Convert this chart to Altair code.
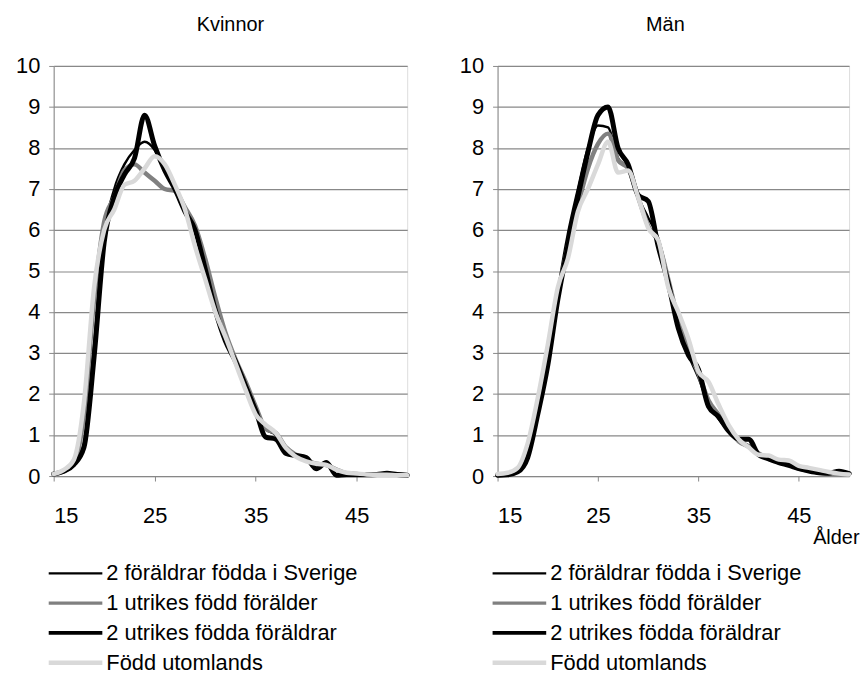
import altair as alt
import pandas as pd

FONT = "Liberation Sans"

AGES = list(range(15, 51))
SERIES = ["2 föräldrar födda i Sverige", "1 utrikes född förälder",
          "2 utrikes födda föräldrar", "Född utomlands"]
COLORS = ["#000000", "#808080", "#000000", "#d9d9d9"]
WIDTHS = [2.5, 4.5, 5.0, 4.5]
X_TICKS = [15, 25, 35, 45]
Y_TICKS = list(range(0, 11))

# Kvinnor
K_S1 = [0.05, 0.12, 0.3, 0.8, 3.2, 5.9, 7.0, 7.6, 7.95, 8.15, 7.95, 7.45, 7.0, 6.5, 6.0, 5.1, 4.1, 3.35,
        2.8, 2.25, 1.65, 1.15, 1.0, 0.65, 0.5, 0.4, 0.3, 0.27, 0.15, 0.06, 0.04, 0.03, 0.03, 0.04, 0.03, 0.02]
K_S2 = [0.05, 0.12, 0.3, 1.5, 4.3, 6.2, 6.8, 7.45, 7.6, 7.4, 7.2, 7.0, 6.95, 6.55, 6.1, 5.3, 4.35, 3.5,
        2.85, 2.3, 1.7, 1.15, 1.05, 0.7, 0.52, 0.4, 0.3, 0.27, 0.16, 0.07, 0.05, 0.03, 0.03, 0.04, 0.03, 0.02]
K_S3 = [0.05, 0.12, 0.28, 0.7, 2.9, 5.7, 6.8, 7.35, 7.75, 8.8, 8.05, 7.45, 7.0, 6.45, 6.0, 5.05, 4.05, 3.3,
        2.8, 2.2, 1.6, 0.95, 0.9, 0.55, 0.5, 0.45, 0.18, 0.33, 0.02, 0.03, 0.03, 0.03, 0.04, 0.07, 0.04, 0.02]
K_S4 = [0.05, 0.15, 0.4, 1.8, 4.6, 6.0, 6.5, 7.1, 7.2, 7.5, 7.8, 7.6, 7.1, 6.5, 5.6, 4.8, 4.0, 3.4,
        2.75, 2.1, 1.5, 1.25, 1.05, 0.68, 0.47, 0.36, 0.3, 0.27, 0.15, 0.08, 0.06, 0.04, 0.03, 0.03, 0.02, 0.02]

# Män
M_S1 = [0.02, 0.05, 0.12, 0.5, 1.5, 2.8, 4.5, 5.9, 7.0, 8.0, 8.55, 8.5, 7.75, 7.5, 6.8, 6.3, 5.8, 4.8,
        3.6, 2.95, 2.4, 1.75, 1.4, 1.1, 0.88, 0.75, 0.55, 0.45, 0.35, 0.27, 0.2, 0.13, 0.09, 0.07, 0.06, 0.04]
M_S2 = [0.02, 0.05, 0.15, 0.6, 1.7, 3.0, 4.4, 5.6, 6.6, 7.5, 8.1, 8.35, 7.7, 7.5, 6.8, 6.1, 5.7, 4.8,
        3.8, 3.1, 2.5, 1.85, 1.5, 1.15, 0.85, 0.72, 0.55, 0.42, 0.35, 0.28, 0.18, 0.13, 0.08, 0.05, 0.05, 0.04]
M_S3 = [0.02, 0.03, 0.1, 0.45, 1.5, 2.7, 4.3, 5.6, 6.8, 7.9, 8.8, 9.0, 8.0, 7.6, 6.85, 6.7, 5.6, 4.7,
        3.6, 2.95, 2.6, 1.7, 1.45, 1.1, 0.9, 0.9, 0.52, 0.42, 0.33, 0.26, 0.18, 0.12, 0.08, 0.07, 0.12, 0.06]
M_S4 = [0.05, 0.08, 0.2, 0.8, 1.9, 3.2, 4.6, 5.3, 6.45, 7.0, 7.6, 8.15, 7.4, 7.45, 6.8, 6.05, 5.75, 4.6,
        4.0, 3.35, 2.55, 2.3, 1.75, 1.25, 0.9, 0.7, 0.52, 0.5, 0.4, 0.38, 0.25, 0.2, 0.15, 0.1, 0.06, 0.04]

PANELS = {
    "Kvinnor": [K_S1, K_S2, K_S3, K_S4],
    "Män": [M_S1, M_S2, M_S3, M_S4],
}

rows = []
for pname, lists in PANELS.items():
    for sname, vals in zip(SERIES, lists):
        for a, v in zip(AGES, vals):
            rows.append({"panel": pname, "series": sname, "age": a, "value": v})
df = pd.DataFrame(rows)
leg_df = pd.DataFrame({"series": SERIES})

GRAY = "#888888"
H = 413


def make_panel(pname, width, xtitle, title_dx):
    common = dict(values=X_TICKS, grid=False, domainColor=GRAY, tickColor=GRAY, tickSize=5,
                  labelPadding=25, labelFontSize=22, labelFont=FONT, labelColor="#000")
    if xtitle:
        xaxis = alt.Axis(**common, title=xtitle, titleFont=FONT, titleFontSize=20, titleFontWeight="normal",
                         titleColor="#000", titleX=width + 10, titleY=62, titleAlign="right",
                         titleBaseline="middle")
    else:
        xaxis = alt.Axis(**common, title=None)
    x = alt.X("age:Q", scale=alt.Scale(domain=[15, 50], nice=False, zero=False), axis=xaxis)
    y = alt.Y("value:Q", scale=alt.Scale(domain=[0, 10], nice=False),
              axis=alt.Axis(values=Y_TICKS, grid=True, gridColor=GRAY, gridWidth=1.2,
                            domainColor=GRAY, tickColor=GRAY, tickSize=5, labelPadding=9,
                            labelFontSize=22, labelFont=FONT, labelColor="#000",
                            minExtent=45, maxExtent=45, title=None))
    base = alt.Chart(df).transform_filter(alt.datum.panel == pname)
    layers = []
    for s, c, w in zip(SERIES, COLORS, WIDTHS):
        layers.append(
            base.transform_filter(alt.datum.series == s)
            .mark_line(color=c, strokeWidth=w, interpolate="monotone", strokeJoin="round", strokeCap="round")
            .encode(x=x, y=y)
        )
    lines = alt.layer(*layers)
    legy = alt.Y("series:N", scale=alt.Scale(type="point", domain=SERIES, range=[H + 98, H + 188], padding=0),
                 axis=None)
    rule = alt.Chart(leg_df).mark_rule(strokeCap="butt").encode(
        x=alt.value(-5), x2=alt.value(49), y=legy,
        color=alt.Color("series:N", scale=alt.Scale(domain=SERIES, range=COLORS), legend=None),
        strokeWidth=alt.StrokeWidth("series:N", scale=alt.Scale(domain=SERIES, range=WIDTHS), legend=None),
    )
    text = alt.Chart(leg_df).mark_text(align="left", baseline="middle", fontSize=22, font=FONT,
                                       color="#000").encode(
        x=alt.value(53), y=legy, text="series:N")
    legend = alt.layer(rule, text)
    return alt.layer(lines, legend).resolve_scale(y="independent").properties(
        width=width, height=H,
        title=alt.TitleParams(pname, font=FONT, fontSize=20, fontWeight="normal", color="#000",
                              anchor="middle", offset=20, dx=title_dx),
    )


left = make_panel("Kvinnor", 356, None, 0)
right = make_panel("Män", 354, "Ålder", -8)

chart = alt.hconcat(left, right, spacing=42).properties(
    padding={"left": 0, "top": 4, "right": 0, "bottom": 0}
).configure_view(stroke=GRAY, strokeWidth=1.2).configure(background="#ffffff")

chart.save("out.html", embed_options={"renderer": "svg", "actions": False})
